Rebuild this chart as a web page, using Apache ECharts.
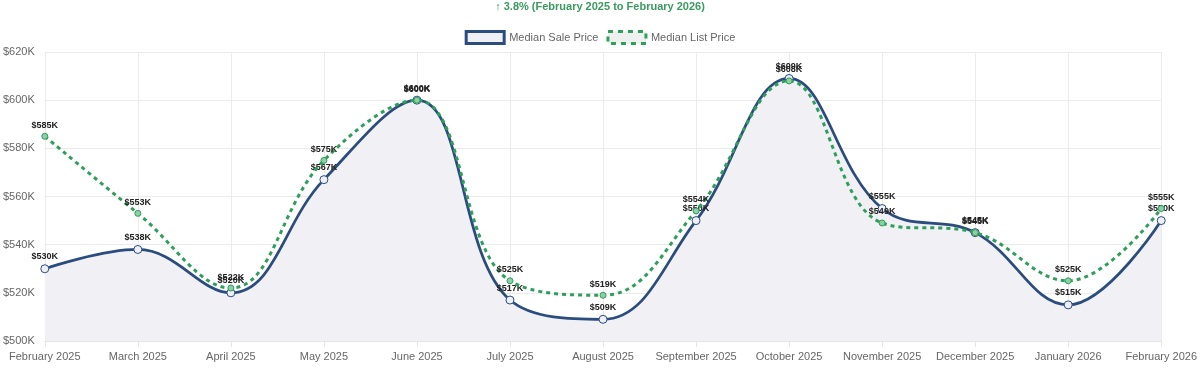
<!DOCTYPE html>
<html><head><meta charset="utf-8">
<script src="https://cdn.jsdelivr.net/npm/echarts@6/dist/echarts.min.js"></script>
<style>html,body{margin:0;padding:0;background:#fff}#c{width:1200px;height:368px}</style>
</head><body><div id="c"></div>
<script>
const categories = ["February 2025","March 2025","April 2025","May 2025","June 2025","July 2025","August 2025","September 2025","October 2025","November 2025","December 2025","January 2026","February 2026"];
const salePrice = [530,538,520,567,600,517,509,550,609,555,545,515,550];
const listPrice = [585,553,522,575,600,525,519,554,608,549,545,525,555];
const titleText = "↑ 3.8% (February 2025 to February 2026)";
const yMin = 500, yMax = 620, yStep = 20;

const FONT = '"Liberation Sans", Arial, sans-serif';
const chart = echarts.init(document.getElementById('c'), null, {renderer:'canvas'});
const fmt = v => '$' + v + 'K';
chart.setOption({
  animation:false,
  textStyle:{fontFamily:FONT},
  title:{text:titleText,left:'center',top:1,padding:0,textStyle:{color:'#3a9a5f',fontSize:11,fontWeight:'bold',fontFamily:FONT}},
  legend:{top:30,left:'center',padding:0,itemWidth:38,itemHeight:12,itemGap:8,
    textStyle:{color:'#666',fontSize:11,fontFamily:FONT},
    data:[
      {name:'Median Sale Price',icon:'rect',itemStyle:{color:'#eef0f5',borderColor:'#2b4c7e',borderWidth:3}},
      {name:'Median List Price',icon:'rect',itemStyle:{color:'#eef0f0',borderColor:'#2e9e5b',borderWidth:3,borderType:[5,5]}}
    ]},
  grid:{left:44,right:38,top:52,bottom:27,containLabel:false},
  xAxis:{type:'category',data:categories,boundaryGap:false,
    axisLine:{lineStyle:{color:'#e5e5e5'}},axisTick:{show:true,length:6,lineStyle:{color:'#e5e5e5'}},
    axisLabel:{color:'#666',fontSize:11,margin:10,interval:0,fontFamily:FONT},
    splitLine:{show:true,lineStyle:{color:'#ebebeb'}}},
  yAxis:{type:'value',min:yMin,max:yMax,interval:yStep,
    axisLine:{show:false},axisTick:{show:false},
    axisLabel:{color:'#666',fontSize:11,margin:10,formatter:fmt,fontFamily:FONT},
    splitLine:{lineStyle:{color:'#ebebeb'}}},
  series:[
    {name:'Median Sale Price',type:'line',data:salePrice,smooth:0.4,z:3,
      symbol:'circle',symbolSize:8,showAllSymbol:true,
      lineStyle:{color:'#2b4c7e',width:2.75},
      itemStyle:{color:'#eef0f5',borderColor:'#2b4c7e',borderWidth:1},
      areaStyle:{color:'#f1f1f5',opacity:1},
      label:{show:true,position:'top',distance:3,formatter:p=>fmt(p.value),color:'#222',fontSize:9,fontWeight:'bold',fontFamily:FONT}},
    {name:'Median List Price',type:'line',data:listPrice,smooth:0.4,z:4,
      symbol:'circle',symbolSize:6,showAllSymbol:true,
      lineStyle:{color:'#2e9e5b',width:3,type:[4,4]},
      itemStyle:{color:'#8fcfa8',borderColor:'#2e9e5b',borderWidth:1},
      label:{show:true,position:'top',distance:3,formatter:p=>fmt(p.value),color:'#222',fontSize:9,fontWeight:'bold',fontFamily:FONT}}
  ]
});
</script></body></html>
